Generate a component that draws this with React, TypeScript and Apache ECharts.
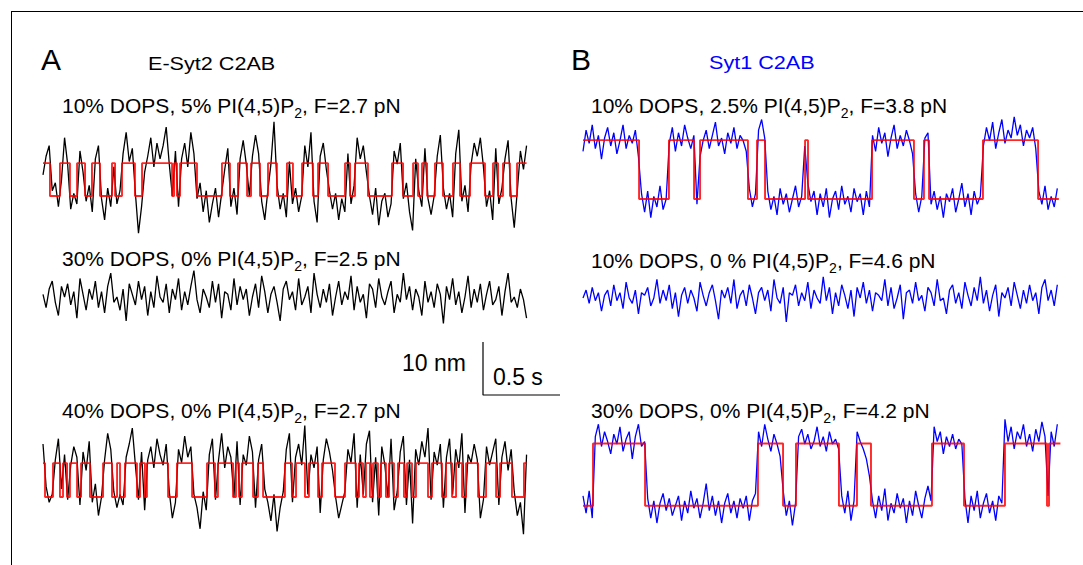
import React, { useEffect, useRef } from "react";
import * as echarts from "echarts";

// sampling / scales
const DT = 0.02; // s per sample
const PX_PER_S = 154; // 0.5 s = 77 px
const PX_PER_A = 0.53; // 10 nm (100 Å) = 53 px
const Y_MIN = -120;
const Y_MAX = 200;
const T_A = 3.14;
const T_B = 3.1;

// ---- Panel A (E-Syt2 C2AB), extension in Å ----
const a1Trace = [
  40, 75, 95, 10, 25, -20, 30, 110, 60, -25,
  5, -15, 85, 45, -10, 20, -30, 70, 95, -5,
  -45, 15, -20, 55, -15, 10, 80, 120, 65, 90,
  5, -70, -20, 45, 75, 110, 55, 100, 70, 95,
  130, 60, 0, 85, -20, 70, 100, 55, 120, 80,
  -5, 25, -30, 10, -50, -15, 15, -40, 5, 50,
  90, -20, 15, -35, 70, 105, 60, 0, 75, 115,
  80, -10, -45, 10, 60, 140, 20, -25, 5, -40,
  65, -15, 15, -30, 0, 95, 55, 120, -10, -50,
  75, 100, 50, 10, -25, 5, -45, -5, -30, 80,
  -15, 20, 110, 70, 95, 45, 0, -35, 15, -55,
  -10, 5, -40, -15, 85, 60, 100, -5, 25, -30,
  -65, 70, 10, -20, 90, -5, -35, 0, 75, 115,
  15, -25, 5, -40, 80, 125, -10, 20, -30, 60,
  100, 75, 110, 55, -20, 10, -45, 90, -15, 15,
  70, 105, -5, -60, 10, 85, 50, 95,
];
const a1Up = 62;
const a1Low = [
  [0.045, 0.11], [0.175, 0.221], [0.273, 0.318], [0.37, 0.448], [0.468, 0.513],
  [0.597, 0.643], [0.838, 0.851], [0.87, 0.89], [1.0, 1.162], [1.214, 1.266],
  [1.325, 1.351], [1.409, 1.461], [1.519, 1.584], [1.623, 1.682], [1.753, 1.786],
  [1.851, 1.961], [1.994, 2.026], [2.11, 2.266], [2.338, 2.403], [2.435, 2.461],
  [2.494, 2.545], [2.597, 2.662], [2.708, 2.773], [2.87, 2.922], [2.955, 2.987],
  [3.032, 3.078],
];

const a2Trace = [
  5, -20, 15, 30, -10, -35, 20, 0, 25, -15,
  10, -40, 35, 5, -25, 15, -5, 30, -20, 10,
  -30, 20, 45, -10, 0, -25, 15, -45, 25, 5,
  -15, 30, -5, 20, -35, 10, -20, 40, 0, -10,
  25, -30, 15, -5, 35, -25, 10, -15, 20, 50,
  -5, -30, 15, 0, -20, 30, -10, 25, -40, 10,
  5, -25, 35, -15, 20, -5, 15, -35, 0, 25,
  -20, 40, 10, -30, 5, 20, -10, -45, 15, 30,
  -5, 10, -25, 35, -15, 0, 20, -30, 45, 5,
  -20, 15, -10, 25, -35, 0, 30, -15, 10, -5,
  40, -25, 20, -10, 5, -40, 25, 15, -20, 35,
  0, -15, 10, 30, -30, 5, -10, 45, -5, 20,
  -25, 15, 0, -35, 30, -10, 10, -20, 25, 5,
  -50, 20, -5, 35, -15, 10, -30, 0, 40, -20,
  15, -10, 25, -25, 5, 30, -15, -5, 20, -35,
  10, 45, -10, 0, -20, 15, -5, -40,
];

const a3Trace = [
  100, 20, -10, 5, 70, 110, 15, 80, -5, 60,
  95, 75, -15, 85, 50, 105, -10, 25, -35, 0,
  70, 120, 90, 10, -20, 5, -15, 75, 100, 130,
  60, -5, 85, -25, 70, 95, 55, 110, 80, 60,
  100, 10, -40, -10, 90, 65, 115, 75, 95, 5,
  -20, -60, 10, -25, 80, 110, -5, 70, 120, 55,
  95, 75, 0, 105, -15, 80, 60, 115, 85, -20,
  70, 100, 15, -10, -45, 5, -65, -20, 10, 90,
  120, -10, 75, 100, 60, 135, 5, 80, 55, 95,
  -30, 70, 110, 85, 50, 0, -40, -15, 10, 90,
  65, 120, -20, 80, 5, 100, 125, -10, 75, -35,
  95, 60, 0, 110, -25, 10, 85, 115, -15, 70,
  -50, 90, 60, 105, 75, 130, -5, 85, 60, 100,
  -20, 75, 110, 5, 90, 55, 120, -30, 80, 65,
  100, 70, -40, -5, 95, 60, 85, 110, -15, 75,
  105, 50, 90, 10, -35, -10, -70, 80,
];
const a3Up = 64;
const a3Low = [
  [0.013, 0.065], [0.11, 0.13], [0.156, 0.175], [0.221, 0.247], [0.305, 0.39],
  [0.448, 0.481], [0.5, 0.532], [0.61, 0.63], [0.662, 0.675], [0.812, 0.87],
  [0.968, 1.065], [1.117, 1.136], [1.234, 1.253], [1.273, 1.292], [1.364, 1.396],
  [1.429, 1.571], [1.617, 1.643], [1.701, 1.727], [1.786, 1.812], [1.896, 1.961],
  [2.032, 2.052], [2.078, 2.097], [2.123, 2.143], [2.175, 2.195], [2.227, 2.247],
  [2.279, 2.305], [2.344, 2.364], [2.396, 2.422], [2.5, 2.526], [2.591, 2.617],
  [2.656, 2.682], [2.721, 2.747], [2.825, 2.877], [2.942, 2.968], [3.045, 3.123],
];

// ---- Panel B (Syt1 C2AB) ----
const b1Trace = [
  90, 130, 105, 140, 95, 120, 75, 115, 135, 100,
  125, 85, 110, 140, 95, 120, 105, 130, 80, 10,
  -25, 15, -35, 5, -15, 25, -20, 0, 105, 135,
  90, 125, 100, 140, 115, 95, 120, -10, 80, 110,
  130, 95, 120, 145, 100, 115, 85, 125, 105, 135,
  95, 120, 110, 90, 20, -15, 10, 130, 150, 115,
  15, -20, 5, -30, 20, -10, 10, -25, 0, 25,
  -15, 5, 100, 30, -5, 15, -30, 10, -15, 20,
  -35, 0, 15, -20, 25, -10, 5, -25, 20, -5,
  10, -30, 15, -15, 120, 90, 135, 105, 125, 80,
  115, 140, 95, 120, 100, 130, 110, 85, 10, -25,
  5, 115, 125, -10, 15, -20, 5, -35, 10, -5,
  20, -25, 0, 30, -15, 10, -30, 15, -10, 5,
  100, 135, 110, 145, 95, 125, 150, 105, 130, 115,
  155, 120, 140, 100, 130, 115, 135, 95, 15, -10,
  25, -20, 5, -15, 20,
];
const b1Up = 111;
const b1StartUp = true;
const b1Switch = [0.364, 0.558, 0.721, 0.76, 1.071, 1.13, 1.182, 1.442, 1.461, 1.877, 2.149, 2.214, 2.247, 2.597, 2.955];
const b1End = 3.09;

const b2Trace = [
  0, 15, -10, 20, -5, 10, -25, 5, 15, -15,
  25, -5, 10, -20, 30, 0, -10, 15, -30, 10,
  5, 20, -15, 0, 35, -10, 15, -5, 25, -20,
  10, -35, 5, 20, -10, 15, 0, -25, 30, 5,
  -15, 10, 25, -5, -40, 15, 0, 20, -10, 35,
  -20, 5, 15, -15, 25, 0, -30, 10, 20, -5,
  15, -25, 35, 0, -10, 20, -45, 10, 5, 25,
  -15, 10, -5, 30, -20, 15, 0, -10, 40, -5,
  20, -30, 10, -15, 25, 5, -20, 15, -35, 20,
  0, 30, -10, 15, -25, 10, 5, -5, 35, -15,
  20, -20, 0, 25, -40, 10, 15, -10, 30, -5,
  5, -25, 20, 10, -15, 35, -5, 0, -30, 15,
  25, -10, 10, -20, 30, 5, -15, 20, -5, 40,
  -10, 15, -25, 5, 25, -35, 10, 0, 20, -15,
  30, 5, -20, 15, -10, 25, -5, 10, -30, 20,
  35, -5, 15, -15, 25,
];

const b3Trace = [
  20, -15, 30, -25, 140, 165, 120, 150, 130, 105,
  145, 125, 160, 110, 135, 150, 95, 140, 165, 120,
  130, 15, -25, 10, -35, 5, 25, -10, 15, -20,
  0, 20, -30, 10, -15, 30, -5, 15, -25, 5,
  45, -10, 20, -20, 10, -35, 5, 25, -15, 10,
  -25, 15, -5, 20, -30, 10, 25, 150, 120, 165,
  135, 110, 145, 125, 100, 30, -20, 10, -40, 5,
  140, 155, 125, 145, 115, 130, 160, 120, 140, 110,
  150, 125, 135, 115, 20, -15, 30, -30, 10, 150,
  130, 115, 95, 60, 10, -25, 20, -10, 35, -30,
  5, -15, 25, -5, 15, -35, 10, -20, 30, 0,
  -25, 15, 40, 10, 160, 130, 150, 105, 140, 120,
  145, 115, 135, 125, 15, -35, 20, -10, 30, -25,
  5, 25, -15, 10, -30, 20, 5, 175, 130, 160,
  115, 150, 135, 165, 120, 145, 110, 155, 130, 170,
  140, 20, 150, 120, 165,
];
const b3Up = 126;
const b3StartUp = false;
const b3Switch = [0.065, 0.403, 1.136, 1.299, 1.383, 1.662, 1.779, 1.87, 2.266, 2.474, 2.74, 3.013, 3.026];
const b3End = 3.1;

// scale bar: 0.5 s, 10 nm (100 Å)
const scaleBarT = 0.5;
const scaleBarA = 100;

// texts
const panelLetters = ["A", "B"];
const constructs = ["E-Syt2 C2AB", "Syt1 C2AB"];
const labelsA = [
  ["10% DOPS, 5% PI(4,5)P", "2", ", F=2.7 pN"],
  ["30% DOPS, 0% PI(4,5)P", "2", ", F=2.5 pN"],
  ["40% DOPS, 0% PI(4,5)P", "2", ", F=2.7 pN"],
];
const labelsB = [
  ["10% DOPS, 2.5% PI(4,5)P", "2", ", F=3.8 pN"],
  ["10% DOPS, 0 % PI(4,5)P", "2", ", F=4.6 pN"],
  ["30% DOPS, 0% PI(4,5)P", "2", ", F=4.2 pN"],
];
const scaleLabels = ["10 nm", "0.5 s"];

const FONT = '"Liberation Sans", Arial, Helvetica, sans-serif';

function tracePts(arr: number[]) {
  return arr.map((v, i) => [Math.round(i * DT * 1000) / 1000, v]);
}
function stepFromLows(lows: number[][], up: number, T: number) {
  const pts: number[][] = [[0, up]];
  for (const [a, b] of lows) {
    pts.push([a, up], [a, 0], [b, 0], [b, up]);
  }
  pts.push([T, up]);
  return pts;
}
function stepFromSwitches(sw: number[], startUp: boolean, up: number, end: number) {
  let state = startUp;
  const pts: number[][] = [[0, state ? up : 0]];
  for (const t of sw) {
    pts.push([t, state ? up : 0]);
    state = !state;
    pts.push([t, state ? up : 0]);
  }
  pts.push([end, state ? up : 0]);
  return pts;
}

export default function App() {
  const ref = useRef<HTMLDivElement>(null);
  useEffect(() => {
    if (!ref.current) return;
    const chart = echarts.init(ref.current, undefined, { renderer: "svg" });

    const traces = [
      { x0: 43, yb: 196, T: T_A, data: a1Trace, color: "#000", step: stepFromLows(a1Low, a1Up, T_A) },
      { x0: 43, yb: 297, T: T_A, data: a2Trace, color: "#000", step: null },
      { x0: 43, yb: 497, T: T_A, data: a3Trace, color: "#000", step: stepFromLows(a3Low, a3Up, T_A) },
      { x0: 583, yb: 199, T: T_B, data: b1Trace, color: "#0000ff", step: stepFromSwitches(b1Switch, b1StartUp, b1Up, b1End) },
      { x0: 583, yb: 298, T: T_B, data: b2Trace, color: "#0000ff", step: null },
      { x0: 583, yb: 513, T: T_B, data: b3Trace, color: "#0000ff", step: stepFromSwitches(b3Switch, b3StartUp, b3Up, b3End) },
    ];

    const grids: any[] = [];
    const xAxes: any[] = [];
    const yAxes: any[] = [];
    const series: any[] = [];
    traces.forEach((tr, k) => {
      grids.push({
        left: tr.x0,
        top: tr.yb - Y_MAX * PX_PER_A,
        width: tr.T * PX_PER_S,
        height: (Y_MAX - Y_MIN) * PX_PER_A,
        containLabel: false,
      });
      xAxes.push({ type: "value", gridIndex: k, min: 0, max: tr.T, show: false });
      yAxes.push({ type: "value", gridIndex: k, min: Y_MIN, max: Y_MAX, show: false });
      series.push({
        type: "line",
        xAxisIndex: k,
        yAxisIndex: k,
        data: tracePts(tr.data),
        showSymbol: false,
        symbol: "none",
        silent: true,
        lineStyle: { color: tr.color, width: 1.3 },
        z: 2,
      });
      if (tr.step) {
        series.push({
          type: "line",
          xAxisIndex: k,
          yAxisIndex: k,
          data: tr.step,
          showSymbol: false,
          symbol: "none",
          silent: true,
          lineStyle: { color: "rgba(255,0,0,0.85)", width: 1.9 },
          z: 3,
        });
      }
    });

    // scale bar grid
    const sk = traces.length;
    grids.push({
      left: 483,
      top: 342,
      width: scaleBarT * PX_PER_S,
      height: scaleBarA * PX_PER_A,
    });
    xAxes.push({ type: "value", gridIndex: sk, min: 0, max: scaleBarT, show: false });
    yAxes.push({ type: "value", gridIndex: sk, min: 0, max: scaleBarA, show: false });
    series.push({
      type: "line",
      xAxisIndex: sk,
      yAxisIndex: sk,
      data: [[0, scaleBarA], [0, 0], [scaleBarT, 0]],
      showSymbol: false,
      symbol: "none",
      silent: true,
      clip: false,
      lineStyle: { color: "#000", width: 1.2 },
    });

    const rich = {
      m: { fontSize: 21, fontFamily: FONT, fill: "#000", color: "#000", lineHeight: 24, verticalAlign: "middle" },
      s: { fontSize: 14, fontFamily: FONT, fill: "#000", color: "#000", lineHeight: 29, verticalAlign: "bottom" },
    };
    const label = (parts: string[], x: number, y: number) => ({
      type: "text",
      x,
      y,
      style: {
        text: `{m|${parts[0]}}{s|${parts[1]}}{m|${parts[2]}}`,
        rich,
        textVerticalAlign: "middle",
        verticalAlign: "middle",
        fill: "#000",
      },
    });
    const plain = (text: string, x: number, y: number, size: number, color = "#000", scaleX = 1) => ({
      type: "text",
      x,
      y,
      scaleX,
      style: {
        text,
        fontSize: size,
        fontFamily: FONT,
        fill: color,
        textVerticalAlign: "middle",
        verticalAlign: "middle",
      },
    });

    const graphic: any[] = [
      { type: "line", shape: { x1: 11, y1: 11.5, x2: 1083, y2: 11.5 }, style: { stroke: "#000", lineWidth: 1 } },
      { type: "line", shape: { x1: 11.5, y1: 11, x2: 11.5, y2: 565 }, style: { stroke: "#000", lineWidth: 1 } },
      plain(panelLetters[0], 41, 59, 30),
      plain(panelLetters[1], 571, 59, 30),
      plain(constructs[0], 148, 64, 18, "#000", 1.2),
      plain(constructs[1], 709, 63, 18, "#0000ff", 1.2),
      label(labelsA[0], 62, 105),
      label(labelsA[1], 62, 258),
      label(labelsA[2], 62, 410),
      label(labelsB[0], 591, 105),
      label(labelsB[1], 591, 260),
      label(labelsB[2], 591, 410),
      plain(scaleLabels[0], 402, 363, 23),
      plain(scaleLabels[1], 493, 377, 23),
    ];

    chart.setOption({
      animation: false,
      backgroundColor: "#fff",
      grid: grids,
      xAxis: xAxes,
      yAxis: yAxes,
      series,
      graphic,
    });
    return () => chart.dispose();
  }, []);

  return (
    <div
      ref={ref}
      style={{ position: "fixed", left: 0, top: 0, width: 1083, height: 565, background: "#fff" }}
    />
  );
}
